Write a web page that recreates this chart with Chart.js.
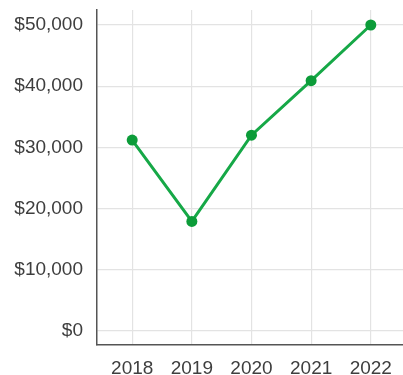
<!DOCTYPE html>
<html>
<head>
<meta charset="utf-8">
<script src="https://cdn.jsdelivr.net/npm/chart.js@4/dist/chart.umd.min.js"></script>
<style>
  html, body { margin: 0; padding: 0; background: #ffffff; }
  #wrap { width: 403px; height: 375px; position: relative; }
</style>
</head>
<body>
<div id="wrap"><canvas id="c"></canvas></div>
<script>
const years = [2018, 2019, 2020, 2021, 2022];
const revenue = [31200, 17900, 32000, 40900, 50000];
const yTickValues = [0, 10000, 20000, 30000, 40000, 50000];

const points = years.map((y, i) => ({ x: y, y: revenue[i] }));

new Chart(document.getElementById('c'), {
  type: 'line',
  data: {
    datasets: [{
      data: points,
      borderColor: '#16a847',
      borderWidth: 3,
      backgroundColor: '#0c9c39',
      pointBackgroundColor: '#0c9c39',
      pointBorderColor: '#0c9c39',
      pointRadius: 5.5,
      pointBorderWidth: 0,
      tension: 0,
      fill: false,
      clip: false
    }]
  },
  options: {
    responsive: true,
    maintainAspectRatio: false,
    animation: false,
    layout: { autoPadding: false, padding: { top: 10, right: 0, bottom: 0, left: 0 } },
    plugins: { legend: { display: false }, tooltip: { enabled: false } },
    scales: {
      x: {
        type: 'linear',
        min: 2017.41,
        max: 2022.54,
        afterBuildTicks: s => { s.ticks = years.map(v => ({ value: v })); },
        afterFit: s => { s.height = 30; s.paddingLeft = 0; s.paddingRight = 0; },
        grid: { color: '#e3e3e3', lineWidth: 1.2, drawTicks: false },
        border: { color: '#555555', width: 1.5 },
        ticks: {
          padding: 12,
          color: '#3e3e3e',
          font: { family: 'Liberation Sans', size: 19 },
          callback: v => String(v)
        }
      },
      y: {
        min: -2300,
        max: 52450,
        afterBuildTicks: s => { s.ticks = yTickValues.map(v => ({ value: v })); },
        afterFit: s => { s.width = 97; s.paddingTop = 0; s.paddingBottom = 0; },
        grid: { color: '#e3e3e3', lineWidth: 1.2, drawTicks: false },
        border: { color: '#555555', width: 1.5 },
        ticks: {
          padding: 14,
          color: '#3e3e3e',
          font: { family: 'Liberation Sans', size: 19 },
          callback: v => '$' + v.toLocaleString('en-US')
        }
      }
    }
  }
});
</script>
</body>
</html>
